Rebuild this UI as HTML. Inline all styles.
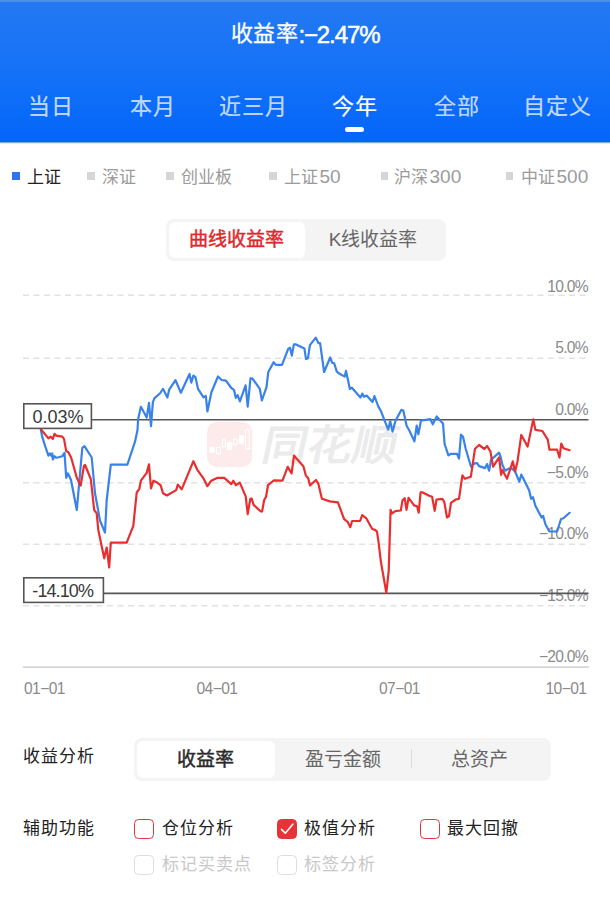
<!DOCTYPE html>
<html lang="zh-CN"><head><meta charset="utf-8">
<style>
html,body{margin:0;padding:0;}
body{width:610px;height:899px;position:relative;overflow:hidden;background:#fff;font-family:"Liberation Sans",sans-serif;}
.a{position:absolute;white-space:nowrap;line-height:1;}
#hdr{position:absolute;left:0;top:0;width:610px;height:142px;background:linear-gradient(#2479f2 2px,#1572f7 50%,#0365fa 100%);}
#hdr .tl{position:absolute;left:0;top:0;width:610px;height:2px;background:#4c8ee9;}
#title{left:0;width:610px;text-align:center;top:23px;font-size:22px;color:#fff;}
.tab{top:96px;width:101.67px;text-align:center;font-size:22px;letter-spacing:1px;text-indent:1px;color:rgba(255,255,255,0.74);-webkit-text-stroke:0.2px rgba(255,255,255,0.74);}
.tab.on{color:#fff;-webkit-text-stroke:0.2px #fff;}
#bar{left:345px;top:127.3px;width:19.2px;height:5.2px;border-radius:2.6px;background:#fff;}
.sq{width:7.6px;height:7.6px;background:#d6d6d6;}
.ix{font-size:17px;color:#9b9b9b;top:169px;}
.dg{font-size:19px;margin-left:1.5px;line-height:0;}
.lbl{font-size:17px;letter-spacing:1.1px;color:#222;}
.cb{width:17.8px;height:17.9px;border:1.5px solid #e3363b;border-radius:4.5px;}
.cb.dis{border-color:#dedede;}
</style></head><body>
<div id="hdr"><div class="tl"></div></div>
<div class="a" style="left:0;top:142px;width:610px;height:1px;background:#80aad0"></div>
<div class="a" style="left:0;top:143px;width:610px;height:1px;background:#e6edf1"></div>
<div class="a" id="title"><span style="position:relative;top:-2px;letter-spacing:0.6px;-webkit-text-stroke:0.3px #fff">收益率</span><span style="font-size:24px;letter-spacing:-1.1px;-webkit-text-stroke:0.5px #fff">:−2.47%</span></div>
<div class="a tab" style="left:-0.40px">当日</div>
<div class="a tab" style="left:101.47px">本月</div>
<div class="a tab" style="left:201.83px">近三月</div>
<div class="a tab on" style="left:303.20px">今年</div>
<div class="a tab" style="left:405.47px">全部</div>
<div class="a tab" style="left:505.73px">自定义</div>
<div class="a" id="bar"></div>

<div class="a sq" style="left:12.2px;top:172.2px;background:#3172f0"></div>
<div class="a ix" style="left:27px;color:#222">上证</div>
<div class="a sq" style="left:87.3px;top:172.3px"></div>
<div class="a ix" style="left:102px">深证</div>
<div class="a sq" style="left:166.3px;top:172.3px"></div>
<div class="a ix" style="left:181px">创业板</div>
<div class="a sq" style="left:269.3px;top:172.3px"></div>
<div class="a ix" style="left:284px">上证<span class="dg">50</span></div>
<div class="a sq" style="left:380.9px;top:172.4px"></div>
<div class="a ix" style="left:394px">沪深<span class="dg">300</span></div>
<div class="a sq" style="left:505.9px;top:172.4px"></div>
<div class="a ix" style="left:521px">中证<span class="dg">500</span></div>

<div class="a" style="left:166px;top:219px;width:279.5px;height:42.3px;border-radius:8px;background:#f4f4f4"></div>
<div class="a" style="left:169px;top:222px;width:135.5px;height:36.3px;border-radius:6px;background:#fff"></div>
<div class="a" style="left:169px;top:230px;width:135px;text-align:center;font-size:19px;-webkit-text-stroke:0.45px #e0282c;color:#e0282c">曲线收益率</div>
<div class="a" style="left:304px;top:230px;width:138px;text-align:center;font-size:19px;color:#666">K线收益率</div>

<!--CHART-->
<svg class="a" style="left:0;top:270px" width="610" height="440" viewBox="0 270 610 440">
<line x1="23" y1="295.2" x2="586" y2="295.2" stroke="#e2e2e2" stroke-width="1.6" stroke-dasharray="6 4.5"/>
<line x1="23" y1="358.2" x2="586" y2="358.2" stroke="#e2e2e2" stroke-width="1.6" stroke-dasharray="6 4.5"/>
<line x1="23" y1="482.7" x2="586" y2="482.7" stroke="#e2e2e2" stroke-width="1.6" stroke-dasharray="6 4.5"/>
<line x1="23" y1="544.2" x2="586" y2="544.2" stroke="#e2e2e2" stroke-width="1.6" stroke-dasharray="6 4.5"/>
<line x1="23" y1="605.7" x2="586" y2="605.7" stroke="#e2e2e2" stroke-width="1.6" stroke-dasharray="6 4.5"/>
<line x1="23" y1="667.1" x2="589" y2="667.1" stroke="#d6d6d6" stroke-width="1.6"/>
<rect x="207" y="422" width="45.3" height="45" rx="10" fill="#fdeaea"/>
<g fill="none" stroke="#fff" stroke-width="1.1"><rect x="210" y="447.6" width="4.2" height="4.8" fill="#fff"/><line x1="212.1" y1="446" x2="212.1" y2="447.6"/><rect x="216.6" y="447.4" width="3.8" height="6.2"/><line x1="218.5" y1="453.6" x2="218.5" y2="455.4"/><rect x="222.4" y="440" width="3" height="6.8"/><line x1="223.9" y1="438.3" x2="223.9" y2="440"/><rect x="227.5" y="442.6" width="4.2" height="6.8" fill="#fff"/><line x1="229.6" y1="441" x2="229.6" y2="442.6"/><rect x="233.5" y="439" width="3.7" height="5.3"/><line x1="235.35" y1="444.3" x2="235.35" y2="446"/><rect x="239.4" y="435.6" width="4.2" height="7.5" fill="#fff"/><line x1="241.5" y1="443.1" x2="241.5" y2="444.6"/><rect x="245.6" y="430" width="3.8" height="18.8"/><line x1="247.5" y1="428.2" x2="247.5" y2="430"/><line x1="247.5" y1="448.8" x2="247.5" y2="450"/></g>
<text x="0" y="0" font-size="44" font-weight="900" fill="#ebebeb" transform="translate(260 460) skewX(-12) scale(1.02 0.95)">同花顺</text>
<text x="588" y="291.9" text-anchor="end" font-family="Liberation Sans" font-size="15.6" letter-spacing="-0.7" fill="#8a8a8a">10.0%</text>
<text x="588" y="353.3" text-anchor="end" font-family="Liberation Sans" font-size="15.6" letter-spacing="-0.7" fill="#8a8a8a">5.0%</text>
<text x="588" y="414.8" text-anchor="end" font-family="Liberation Sans" font-size="15.6" letter-spacing="-0.7" fill="#8a8a8a">0.0%</text>
<text x="588" y="477.6" text-anchor="end" font-family="Liberation Sans" font-size="15.6" letter-spacing="-0.7" fill="#8a8a8a">−5.0%</text>
<text x="588" y="539.4" text-anchor="end" font-family="Liberation Sans" font-size="15.6" letter-spacing="-0.7" fill="#8a8a8a">−10.0%</text>
<text x="588" y="600.7" text-anchor="end" font-family="Liberation Sans" font-size="15.6" letter-spacing="-0.7" fill="#8a8a8a">−15.0%</text>
<text x="588" y="662.1" text-anchor="end" font-family="Liberation Sans" font-size="15.6" letter-spacing="-0.7" fill="#8a8a8a">−20.0%</text>
<line x1="92" y1="419.7" x2="588.5" y2="419.7" stroke="#555" stroke-width="1.6"/>
<line x1="104" y1="593.4" x2="588.5" y2="593.4" stroke="#555" stroke-width="1.6"/>
<polyline points="40.8,429.5 42.2,436.7 45,445.6 48.4,455.6 49.8,453.4 51.5,456 52.3,453.5 52.8,459.5 54.5,456.2 56.2,457.8 58.4,457.3 62.3,456.2 64.5,452.8 66.2,477.8 67.8,473.4 69,475.5 71,480 76.8,510 82.3,447.8 84.5,446.1 91.7,457.5 95,493.3 97.5,506.7 100,520.8 105,532.5 106.7,500 110.8,464.6 127.4,464.6 135,441.7 137.5,430 138.1,419.2 140.9,406.7 146.7,417.6 149,402.8 151,426.2 152.9,402.1 154.5,398.2 159.9,393.5 163,388.8 167.4,397.4 169.2,389.6 175.5,380.2 180.9,392.7 189.5,374 191.3,382.6 193.4,375.6 195.4,377.1 198,388.8 203.5,397.4 205.8,395.8 207.4,411.4 211.5,392 218,376.5 221.6,380 226,380.6 231.3,388 234,389.8 235.8,397.8 237.6,395.2 239.9,401.4 245.6,385.4 247.7,406.7 250.5,378.3 252.3,378.3 259.8,388.9 261.9,400.5 266.5,387.2 268.3,372 273.6,362.2 275.8,364.9 282,364.9 288.2,348.9 290,347.7 291.8,355.6 293.9,344.4 296.1,344.4 304.4,348.4 306,359.1 308,358.2 309.9,345.1 315.8,337.6 318.4,343.1 320.1,343.1 324.1,372 330.2,357.5 332.2,362.8 334.2,363.4 336.8,371.7 338.8,373.3 344.7,376.6 346,370.9 349.9,389 351.9,387.7 360.4,397.5 362.4,393.6 363.9,396.8 366.6,395.5 372.5,402 374.4,396.1 378.4,406.6 381,411.2 384.3,419.8 388.2,429.6 390.2,421.1 392.5,431.6 395.4,421.1 401.3,409.9 403.3,410.6 406.6,425.7 409.2,430.2 414.4,441.4 416.7,425.7 418.4,434.2 421,420.4 424.3,420.1 430.2,419.1 432.8,424.3 436.7,416.5 439.7,420 443,423.4 444.6,444 448.4,455.4 451,453.8 457,453.8 459,458.7 461,434.7 463,436.7 465.7,448.7 471,466.7 474.4,463.4 477.1,463.1 479.1,466.1 485.1,468.1 487.1,464.1 489.1,470.7 491.1,459.4 493.7,457.4 499.1,452.7 500.4,456.1 502.4,464.7 505.1,470.7 508.1,468.9 512,468.4 515.1,471.5 519.3,481.7 521.3,474.6 529.1,490.2 531.1,498.8 533,497.2 535.4,505.8 541.6,517.5 543.1,515.9 545.5,524.5 549.4,531.5 557.1,531.5 561,519 563.4,518.3 569.6,512.8" fill="none" stroke="#3882e8" stroke-width="2.2" stroke-linejoin="round" stroke-linecap="round"/>
<polyline points="41.1,429.5 48.4,438.4 50.6,436.7 52.8,438.9 54.5,433.9 56.2,435.6 62.3,436.7 64,438.9 66.2,451.1 68.4,452.3 71.2,457.8 76.8,477.8 80.7,485.6 84,465.6 85.1,465 90.8,479.2 94.2,510 96.7,513.3 98.3,530 104.2,558.3 106.7,547.5 109.2,567.5 110.8,542.6 126.7,542.6 133.3,525.8 136.7,492.5 139.2,489.2 140.9,480.7 146.7,472.9 149,464.4 151,488.5 153.4,480.7 156.8,482.3 160.7,485.4 163,493.2 166.9,495.5 176.2,490.1 177.8,484.6 181.7,489.3 193.4,461.2 197.3,469.8 203.5,478.4 207.4,486.2 211.3,480.7 217.1,477.9 224.2,477.9 231.3,484.1 233.3,480.7 235.9,485.2 239.8,482.6 245.7,496.4 247.7,514.1 250.3,499 251.6,498.4 253.6,504.9 260.8,511.5 262.1,511.5 264.1,500.3 266.1,496.4 268,485.2 273.9,480.4 282.5,480.7 287.7,466.9 291.6,473.4 294,455.5 296.9,459 303.4,466.2 305.8,475.4 308.2,478.3 310,485.4 316,480 318.3,483.6 321.9,498.7 329.9,501.4 337.9,502.3 344.1,519.2 347.7,521.9 350.3,527.2 352.1,521 360.1,521 362.2,515.1 366.3,518.3 372.2,529 375.2,529.9 377,531.6 378.6,542.3 380.8,561.1 386.3,592.9 388.7,571.2 390.6,509.8 392.1,513.4 395.3,511.2 400.8,510.5 402.5,500.4 404.7,498.2 406.5,509.8 408.6,497.8 414.1,505.4 417,506.2 418.7,512.7 420.6,492.4 422.7,492.4 429.2,495.7 432.1,496.8 434.7,510.9 436.5,499.6 442.3,498.8 444.3,502.1 447,517.5 449,516.1 451,502.8 455.7,499.5 459,498.8 462.4,475.4 465,478.8 470.8,476.8 473,462.1 475,448.7 479.1,445 484.4,449 487.1,446 490.4,451.4 493.1,466.7 499.1,457.4 501.1,474.8 502.4,470.1 507,478.7 512.8,461.4 515.1,471.5 517.5,461.4 521.3,434.9 527.6,446.6 533.3,419.3 535.4,429.9 542.4,431 547.8,439.6 549.4,449.7 557.1,449.7 559.5,457.5 561.3,443.5 563.4,448.2 569.6,450.2" fill="none" stroke="#e82e2f" stroke-width="2.2" stroke-linejoin="round" stroke-linecap="round"/>
<rect x="23.8" y="403.8" width="67.6" height="24.6" fill="#fff" stroke="#555" stroke-width="1.6"/>
<text x="32.5" y="422.6" font-family="Liberation Sans" font-size="18" fill="#383838">0.03%</text>
<rect x="23.8" y="577.8" width="79.6" height="24.6" fill="#fff" stroke="#555" stroke-width="1.6"/>
<text x="32.3" y="596.6" font-family="Liberation Sans" font-size="18" fill="#383838" letter-spacing="-0.9">-14.10%</text>
<text x="24" y="694" font-family="Liberation Sans" font-size="15.6" letter-spacing="-0.6" fill="#8a8a8a">01−01</text>
<text x="196.5" y="694" font-family="Liberation Sans" font-size="15.6" letter-spacing="-0.6" fill="#8a8a8a">04−01</text>
<text x="379" y="694" font-family="Liberation Sans" font-size="15.6" letter-spacing="-0.6" fill="#8a8a8a">07−01</text>
<text x="545.5" y="694" font-family="Liberation Sans" font-size="15.6" letter-spacing="-0.6" fill="#8a8a8a">10−01</text>
</svg>
<!--/CHART-->

<div class="a lbl" style="left:23px;top:748px">收益分析</div>
<div class="a" style="left:134.3px;top:738.2px;width:416.7px;height:42.4px;border-radius:8px;background:#f4f4f4"></div>
<div class="a" style="left:137.3px;top:741.1px;width:137.3px;height:36.6px;border-radius:6px;background:#fff"></div>
<div class="a" style="left:137px;top:749.5px;width:137px;text-align:center;font-size:19px;-webkit-text-stroke:0.45px #2a2a2a;color:#2a2a2a">收益率</div>
<div class="a" style="left:274px;top:749.5px;width:137px;text-align:center;font-size:19px;color:#666">盈亏金额</div>
<div class="a" style="left:411px;top:749px;width:1px;height:19px;background:#dcdcdc"></div>
<div class="a" style="left:411px;top:749.5px;width:137px;text-align:center;font-size:19px;color:#666">总资产</div>

<div class="a lbl" style="left:23px;top:819.6px">辅助功能</div>
<div class="a cb" style="left:134.2px;top:818.8px"></div>
<div class="a lbl" style="left:162px;top:819.8px">仓位分析</div>
<div class="a cb" style="left:277px;top:818.8px;background:#e8323a;border-color:#e8323a"><svg width="17" height="17" viewBox="0 0 17 17" style="position:absolute;left:0;top:0"><path d="M3.5 9.4 L7.3 13.2 L14.8 4.2" fill="none" stroke="#fff" stroke-width="1.6" stroke-linecap="round" stroke-linejoin="round"/></svg></div>
<div class="a lbl" style="left:304px;top:819.8px">极值分析</div>
<div class="a cb" style="left:420px;top:818.8px"></div>
<div class="a lbl" style="left:447px;top:819.8px">最大回撤</div>
<div class="a cb dis" style="left:134.2px;top:854.8px"></div>
<div class="a lbl" style="left:162px;top:856.2px;color:#c8c8c8">标记买卖点</div>
<div class="a cb dis" style="left:277px;top:854.8px"></div>
<div class="a lbl" style="left:304px;top:856.2px;color:#c8c8c8">标签分析</div>
</body></html>
